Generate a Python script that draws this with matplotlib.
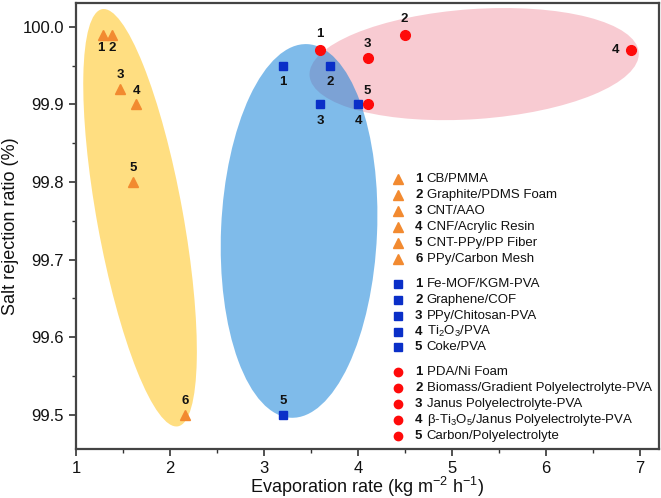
import matplotlib
matplotlib.use("Agg")
import matplotlib.pyplot as plt
from matplotlib.patches import Ellipse
from matplotlib.ticker import MultipleLocator
import matplotlib.transforms as mtransforms

plt.rcParams['font.family'] = ['Liberation Sans', 'DejaVu Sans']
plt.rcParams['mathtext.fontset'] = 'custom'
plt.rcParams['mathtext.rm'] = 'Liberation Sans'
plt.rcParams['mathtext.it'] = 'Liberation Sans:italic'
plt.rcParams['mathtext.bf'] = 'Liberation Sans:bold'

# ---------------- data ----------------
tri_x = [1.29, 1.38, 1.47, 1.64, 1.61, 2.16]
tri_y = [99.99, 99.99, 99.92, 99.90, 99.80, 99.50]
tri_names = ["CB/PMMA", "Graphite/PDMS Foam", "CNT/AAO", "CNF/Acrylic Resin",
             "CNT-PPy/PP Fiber", "PPy/Carbon Mesh"]

sq_x = [3.20, 3.70, 3.60, 4.00, 3.20]
sq_y = [99.95, 99.95, 99.90, 99.90, 99.50]
sq_names = ["Fe-MOF/KGM-PVA", "Graphene/COF", "PPy/Chitosan-PVA",
            r"Ti$\mathregular{_2}$O$\mathregular{_3}$/PVA", "Coke/PVA"]

ci_x = [3.60, 4.50, 4.10, 6.90, 4.10]
ci_y = [99.97, 99.99, 99.96, 99.97, 99.90]
ci_names = ["PDA/Ni Foam", "Biomass/Gradient Polyelectrolyte-PVA",
            "Janus Polyelectrolyte-PVA",
            r"β-Ti$\mathregular{_3}$O$\mathregular{_5}$/Janus Polyelectrolyte-PVA",
            "Carbon/Polyelectrolyte"]

x_ticks = [1, 2, 3, 4, 5, 6, 7]
y_ticks = [99.5, 99.6, 99.7, 99.8, 99.9, 100.0]

# label placement (style): direction of number labels
tri_lab = ['belowleft', 'below', 'above', 'above', 'above', 'above']
sq_lab = ['below2', 'below2', 'below2', 'below2', 'above']
ci_lab = ['above2', 'above2', 'above', 'left', 'above']

C_TRI = '#F28A30'
C_SQ = '#0A2FC8'
C_CI = '#FF0A0A'

fig = plt.figure(figsize=(6.61, 4.98), dpi=100)
ax = fig.add_axes([0.115, 0.0984, 0.882, 0.896])
ax.set_xlim(1, 7.2)
ax.set_ylim(99.456, 100.031)

# ---------------- ellipses (drawn in display inches around a data center) ----------------
def add_ellipse(cx, cy, w_in, h_in, angle, color, alpha, z):
    tr = fig.dpi_scale_trans + mtransforms.ScaledTranslation(cx, cy, ax.transData)
    e = Ellipse((0, 0), w_in, h_in, angle=angle, transform=tr,
                facecolor=color, edgecolor='none', alpha=alpha, zorder=z)
    ax.add_patch(e)

add_ellipse(1.681, 99.754, 0.86, 4.24, 10.3, '#FFC82E', 0.6, 1)
add_ellipse(5.234, 99.952, 3.30, 1.10, 4.0, '#F08C9C', 0.45, 1)
add_ellipse(3.372, 99.737, 1.56, 3.74, -2.5, '#0A7ED8', 0.52, 2)

# ---------------- points ----------------
ax.plot(tri_x, tri_y, linestyle='none', marker='^', ms=7.5, color=C_TRI, zorder=5)
ax.plot(sq_x, sq_y, linestyle='none', marker='s', ms=6, color=C_SQ, zorder=5)
ax.plot(ci_x, ci_y, linestyle='none', marker='o', ms=7, color=C_CI, zorder=5)

offsets = {'above': (0, 10), 'above2': (-0.5, 11.5),
           'below': (0, -10), 'belowleft': (-2, -10), 'below2': (0, -12),
           'left': (-11, 0)}

def label_points(xs, ys, dirs):
    for i, (x, y, d) in enumerate(zip(xs, ys, dirs)):
        ox, oy = offsets[d]
        ax.annotate(str(i + 1), (x, y), xytext=(ox, oy),
                    textcoords='offset points', ha='center', va='center',
                    fontsize=9.5, fontweight='bold', color='#111111', zorder=6)

label_points(tri_x, tri_y, tri_lab)
label_points(sq_x, sq_y, sq_lab)
label_points(ci_x, ci_y, ci_lab)

# ---------------- custom legend ----------------
ax_h_px = 0.896 * 498
ax_w_px = 0.882 * 661
def ypx_to_axes(ypx):
    return (449.0 - ypx) / ax_h_px

mk_x = (398 - 76) / ax_w_px
num_x = (415 - 76) / ax_w_px
name_x = (426.5 - 76) / ax_w_px

groups = [(tri_names, '^', C_TRI, 6.5), (sq_names, 's', C_SQ, 5.5), (ci_names, 'o', C_CI, 6)]
y0 = 179.5
row = 0
for gi, (names, mk, col, ms) in enumerate(groups):
    for i, nm in enumerate(names):
        ypx = y0 + row * 15.95 + gi * 8.5
        ya = ypx_to_axes(ypx)
        ax.plot([mk_x], [ya], marker=mk, ms=ms, color=col, transform=ax.transAxes,
                linestyle='none', clip_on=False, zorder=7)
        ax.text(num_x, ya, str(i + 1), transform=ax.transAxes, fontsize=9.5,
                fontweight='bold', va='center', ha='left', color='#111111')
        ax.text(name_x, ya, nm, transform=ax.transAxes, fontsize=9.5,
                va='center', ha='left', color='#111111')
        row += 1

# ---------------- axes styling ----------------
ax.set_xticks(x_ticks)
ax.set_yticks(y_ticks)
ax.set_yticklabels([f"{v:.1f}" for v in y_ticks])
ax.xaxis.set_minor_locator(MultipleLocator(0.5))
ax.yaxis.set_minor_locator(MultipleLocator(0.05))
ax.tick_params(which='major', direction='out', length=5, width=1.2, color='#333333',
               labelsize=12, labelcolor='#111111', pad=3.5)
ax.tick_params(which='minor', direction='out', length=3, width=1.0, color='#333333')
for s in ax.spines.values():
    s.set_color('#444444')
    s.set_linewidth(1.6)

ax.set_xlabel(r'Evaporation rate (kg m$\mathregular{^{-2}}$ h$\mathregular{^{-1}}$)',
              fontsize=13, color='#111111', labelpad=-1)
ax.set_ylabel('Salt rejection ratio (%)', fontsize=13, color='#111111', labelpad=3)

fig.savefig('out.png', dpi=100)
